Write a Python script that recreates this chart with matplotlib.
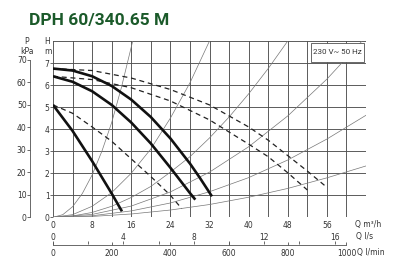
import numpy as np
import matplotlib.pyplot as plt
from matplotlib.patches import Rectangle

# pump curves, Q in m3/h, H in m
q_s1 = [0, 4, 8, 12, 14.1]
h_s1 = [5.1, 3.92, 2.55, 1.08, 0.27]
q_s2 = [0, 4, 8, 12, 16, 20, 24, 28, 29.1]
h_s2 = [6.4, 6.15, 5.72, 5.1, 4.3, 3.35, 2.25, 1.1, 0.8]
q_s3 = [0, 4, 8, 12, 16, 20, 24, 28, 30, 32.5]
h_s3 = [6.75, 6.66, 6.4, 5.96, 5.34, 4.55, 3.58, 2.44, 1.8, 0.95]

q_d1 = [0, 4, 8, 12, 16, 20, 24, 26.3]
h_d1 = [5.1, 4.72, 4.1, 3.45, 2.65, 1.85, 1.0, 0.4]
q_d2 = [0, 8, 16, 24, 32, 40, 44, 48, 52]
h_d2 = [6.4, 6.25, 5.88, 5.28, 4.42, 3.32, 2.75, 2.02, 1.24]
q_d3 = [0, 8, 16, 24, 32, 40, 44, 48, 52, 56]
h_d3 = [6.75, 6.66, 6.32, 5.8, 5.1, 4.1, 3.5, 2.8, 2.1, 1.36]

# system curves (thin)
q_sysA = [0, 2, 4, 6, 8, 10, 12, 14, 16.3]
h_sysA = [0, 0.12, 0.48, 1.08, 1.92, 3.0, 4.3, 5.9, 8.0]
q_sysB = [0, 4, 8, 12, 16, 20, 24, 28, 32]
h_sysB = [0, 0.12, 0.5, 1.12, 2.0, 3.1, 4.5, 6.1, 8.0]
q_sysC = [0, 4, 8, 12, 16, 20, 24, 28, 32, 36, 40, 44, 48]
h_sysC = [0, 0.06, 0.22, 0.5, 0.9, 1.4, 2.05, 2.75, 3.6, 4.55, 5.6, 6.75, 8.0]
q_sysD = [0, 8, 16, 24, 32, 40, 48, 56, 63.2]
h_sysD = [0, 0.13, 0.51, 1.15, 2.05, 3.2, 4.6, 6.27, 8.0]
q_sysE = [0, 8, 16, 24, 32, 40, 48, 56, 64]
h_sysE = [0, 0.07, 0.29, 0.65, 1.16, 1.8, 2.6, 3.55, 4.63]
q_sysF = [0, 8, 16, 24, 32, 40, 48, 56, 64]
h_sysF = [0, 0.04, 0.15, 0.33, 0.58, 0.91, 1.31, 1.79, 2.33]

# axis labels
q_m3h_ticks = [0, 8, 16, 24, 32, 40, 48, 56]
q_ls_labels = [0, 4, 8, 12, 16]
q_ls_minor = [2, 6, 10, 14]
q_lmin_labels = [0, 200, 400, 600, 800, 1000]
p_kpa_ticks = [0, 10, 20, 30, 40, 50, 60, 70]

title = "DPH 60/340.65 M"
green = "#1b5a2a"
tc = "#333333"
gc = "#505050"

fig = plt.figure(figsize=(4, 2.67), dpi=100)
L, B, W, Hh = 53/400, 1-217.3/267, 313/400, 176.3/267
ax = fig.add_axes([L, B, W, Hh])
ax.set_xlim(0, 64)
ax.set_ylim(0, 8)

# grid
for x in range(0, 65, 4):
    ax.axvline(x, color=gc, lw=0.65, zorder=1)
for y in range(0, 9):
    ax.axhline(y, color=gc, lw=0.65, zorder=1)

for q, h in [(q_sysA, h_sysA), (q_sysB, h_sysB), (q_sysC, h_sysC),
             (q_sysD, h_sysD), (q_sysE, h_sysE), (q_sysF, h_sysF)]:
    ax.plot(q, h, color="#777777", lw=0.5, zorder=2)

for q, h in [(q_d1, h_d1), (q_d2, h_d2), (q_d3, h_d3)]:
    ax.plot(q, h, color="#222222", lw=0.9, dashes=(4, 3), zorder=3)

for q, h in [(q_s1, h_s1), (q_s2, h_s2), (q_s3, h_s3)]:
    ax.plot(q, h, color="#111111", lw=1.9, solid_capstyle="butt", zorder=4)

for s in ax.spines.values():
    s.set_visible(False)
ax.set_xticks(q_m3h_ticks)
ax.set_xticklabels([str(v) for v in q_m3h_ticks])
ax.set_yticks(range(0, 8))
ax.tick_params(axis="x", length=0, pad=3, labelsize=5.5, labelcolor=tc)
ax.tick_params(axis="y", length=2, pad=0.5, width=0.6, color=gc,
               labelsize=5.5, labelcolor=tc)

# voltage box
ax.add_patch(Rectangle((52.8, 7.06), 10.7, 0.86, fc="white", ec=gc, lw=0.6, zorder=6))
ax.text(58.15, 7.49, "230 V~ 50 Hz", fontsize=5.8, family="Roboto", color=tc,
        ha="center", va="center", zorder=7)

# pressure axis in kPa
axp = ax.twinx()
axp.set_ylim(0, 8*9.80665)
axp.yaxis.tick_left()
for s in ["top", "right", "bottom"]:
    axp.spines[s].set_visible(False)
axp.spines["left"].set_position(("outward", 16.5))
axp.spines["left"].set_bounds(0, 70)
axp.spines["left"].set_color(gc)
axp.spines["left"].set_linewidth(0.6)
axp.set_yticks(p_kpa_ticks)
axp.tick_params(axis="y", length=2, pad=0.5, width=0.6, color=gc,
                labelsize=5.5, labelcolor=tc)

fig.text(27/400, 1-41.5/267, "P", fontsize=5.5, color=tc, ha="center", va="center")
fig.text(27/400, 1-51.5/267, "kPa", fontsize=5.5, color=tc, ha="center", va="center")
fig.text(47.5/400, 1-41.5/267, "H", fontsize=5.5, color=tc, ha="center", va="center")
fig.text(47.5/400, 1-51.5/267, "m", fontsize=5.5, color=tc, ha="center", va="center")

# flow axes in l/s (top ticks) and l/min (bottom labels)
axq = fig.add_axes([L, 1-244.5/267, W, 0.0001])
axl = axq.twiny()
for a in (axq, axl):
    a.set_xlim(0, 64)
    a.set_yticks([])
for s in ["top", "left", "right"]:
    axq.spines[s].set_visible(False)
for s in axl.spines.values():
    s.set_visible(False)
axq.spines["bottom"].set_bounds(0, 60)
axq.spines["bottom"].set_color(gc)
axq.spines["bottom"].set_linewidth(0.6)

axl.xaxis.tick_bottom()
axl.set_xticks([v*0.06 for v in q_lmin_labels])
axl.set_xticklabels([str(v) for v in q_lmin_labels])
axl.tick_params(axis="x", direction="in", length=2.5, width=0.6, pad=3.5, color=gc,
                labelsize=5.5, labelcolor=tc)

axq.xaxis.tick_top()
axq.set_xticks([v*3.6 for v in q_ls_labels])
axq.set_xticklabels([str(v) for v in q_ls_labels])
axq.set_xticks([v*3.6 for v in q_ls_minor], minor=True)
axq.tick_params(axis="x", which="both", length=2, width=0.6, pad=0, color=gc,
                labelsize=5.5, labelcolor=tc)

fig.text(355/400, 1-224.5/267, "Q m\u00b3/h", fontsize=5.5, color=tc, va="center")
fig.text(356/400, 1-237/267, "Q l/s", fontsize=5.5, color=tc, va="center")
fig.text(357/400, 1-253/267, "Q l/min", fontsize=5.5, color=tc, va="center")

fig.text(29/400, 1-20/267, title, fontsize=12.5, fontweight="bold", family="Roboto",
         color=green, va="center", ha="left")

fig.savefig("out.png", dpi=100)
